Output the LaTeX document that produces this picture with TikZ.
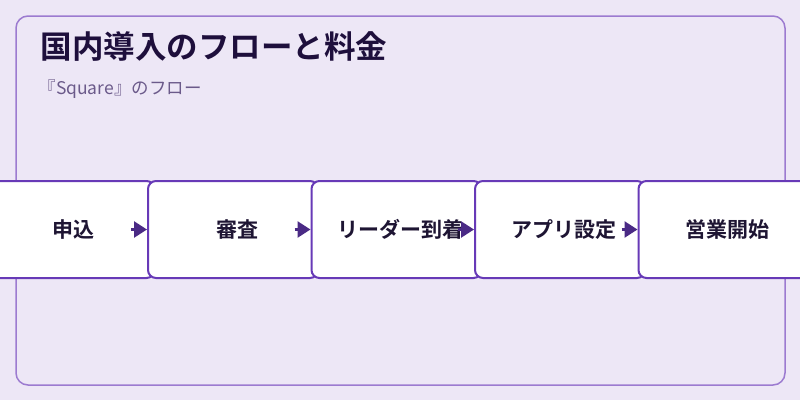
\documentclass[tikz,border=0pt]{standalone}
\usepackage{fontspec}
\setmainfont{Noto Sans CJK JP}[BoldFont={Noto Sans CJK JP Bold}]
\usetikzlibrary{arrows.meta}
\definecolor{bgcol}{HTML}{EDE7F6}
\definecolor{cardline}{HTML}{9C7BD0}
\definecolor{boxline}{HTML}{673AB7}
\definecolor{arrowcol}{HTML}{4A2A85}
\definecolor{titlecol}{HTML}{1E0F3C}
\definecolor{subcol}{HTML}{6B5A8A}
\definecolor{textcol}{HTML}{1E1533}

\begin{document}
\begin{tikzpicture}[x=1pt, y=-1pt,
	stagebox/.style={draw=boxline, line width=2pt, fill=white, rounded corners=8pt, minimum width=170pt, minimum height=97pt, inner sep=0pt, text=textcol, font=\fontsize{21}{24}\selectfont\bfseries},
	flowarrow/.style={draw=arrowcol, line width=2.5pt, -{Triangle[length=13pt, width=16pt]}}]
	\useasboundingbox (0,0) rectangle (800,400);
	\fill[bgcol] (0,0) rectangle (800,400);
	\draw[cardline, line width=1.5pt, rounded corners=12pt] (16,16) rectangle (785,385);
	\node[anchor=west, text=titlecol, font=\fontsize{31.5}{36}\selectfont\bfseries] (title) at (37,47) {国内導入のフローと料金};
	\node[anchor=west, text=subcol, font=\fontsize{17.5}{20}\selectfont] (subtitle) at (35,89) {『Square』のフロー};
	% stages
	\node[stagebox, text width=170pt, align=center] (apply) at (69.5,229.5) {\hspace*{8pt}申込};
	\node[stagebox, text width=170pt, align=center] (review) at (233,229.5) {\hspace*{8pt}審査};
	\node[stagebox, text width=170pt, align=center] (reader) at (396.5,229.5) {\hspace*{8pt}リーダー到着};
	\node[stagebox, text width=170pt, align=center] (appset) at (560,229.5) {\hspace*{8pt}アプリ設定};
	\node[stagebox, text width=170pt, align=center] (open) at (723.5,229.5) {\hspace*{8pt}営業開始};
	% arrows
	\draw[flowarrow] ([xshift=-16pt]review.west) -- (review.west);
	\draw[flowarrow] ([xshift=-16pt]reader.west) -- (reader.west);
	\draw[flowarrow] ([xshift=-16pt]appset.west) -- (appset.west);
	\draw[flowarrow] ([xshift=-16pt]open.west) -- (open.west);
\end{tikzpicture}
\end{document}
